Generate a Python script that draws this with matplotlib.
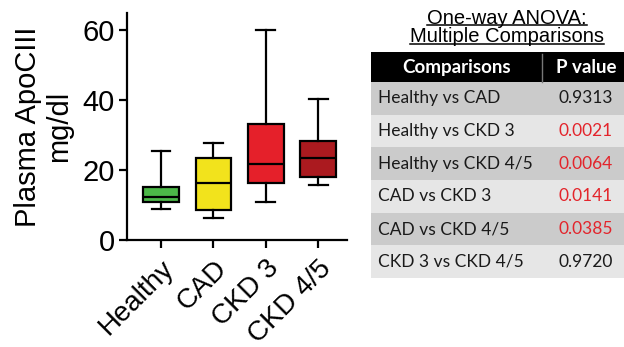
import matplotlib.pyplot as plt
from matplotlib.patches import Rectangle
from matplotlib.lines import Line2D

# Box plot data
groups = ['Healthy', 'CAD', 'CKD 3', 'CKD 4/5']
whisker_low = [9.0, 6.2, 10.8, 15.7]
q1 = [10.9, 8.6, 16.4, 18.1]
medians = [12.4, 16.2, 21.9, 23.6]
q3 = [15.2, 23.5, 33.3, 28.3]
whisker_high = [25.5, 27.9, 60.2, 40.4]
box_colors = ['#4cb848', '#f2e31c', '#e5202a', '#ab1a1f']

# Comparison table
comparisons = ['Healthy vs CAD', 'Healthy vs CKD 3', 'Healthy vs CKD 4/5',
               'CAD vs CKD 3', 'CAD vs CKD 4/5', 'CKD 3 vs CKD 4/5']
p_values = ['0.9313', '0.0021', '0.0064', '0.0141', '0.0385', '0.9720']
p_colors = ['#1a1a1a', '#e3242b', '#e3242b', '#e3242b', '#e3242b', '#1a1a1a']
row_colors = ['#cbcbcb', '#e6e6e6', '#cbcbcb', '#e6e6e6', '#cbcbcb', '#e6e6e6']

W, H = 624, 347
fig = plt.figure(figsize=(W / 100, H / 100), dpi=100)
fig.patch.set_facecolor('white')
plt.rcParams['font.family'] = ['Liberation Sans', 'DejaVu Sans']

# ---- box plot ----
ax = fig.add_axes([127 / W, 1 - 240 / H, 220 / W, 227 / H])
stats = []
for i, g in enumerate(groups):
    stats.append(dict(label=g, whislo=whisker_low[i], q1=q1[i], med=medians[i],
                      q3=q3[i], whishi=whisker_high[i], fliers=[]))
bp = ax.bxp(stats, positions=range(1, len(groups) + 1), widths=0.68,
            capwidths=0.36, patch_artist=True, showfliers=False,
            boxprops=dict(linewidth=1.6, edgecolor='black'),
            medianprops=dict(color='black', linewidth=1.6),
            whiskerprops=dict(color='black', linewidth=1.6),
            capprops=dict(color='black', linewidth=1.6))
for patch, c in zip(bp['boxes'], box_colors):
    patch.set_facecolor(c)

ax.set_xlim(0.35, 4.55)
ax.set_ylim(0, 65)
ax.set_yticks([0, 20, 40, 60])
ax.spines['top'].set_visible(False)
ax.spines['right'].set_visible(False)
ax.spines['left'].set_linewidth(1.6)
ax.spines['bottom'].set_linewidth(1.6)
ax.tick_params(axis='both', width=1.6, length=6, labelsize=21, pad=3)
ax.tick_params(axis='x', pad=5)
ax.set_xticks(range(1, len(groups) + 1))
ax.set_xticklabels(groups, rotation=45, ha='right', va='top',
                   rotation_mode='anchor', fontsize=20)
ax.set_ylabel('Plasma ApoCIII\nmg/dl', fontsize=21, linespacing=1.15)
ax.yaxis.set_label_coords(-0.245, 0.5)

# ---- table ----
tx0, tx1, ty0, ty1 = 371, 624, 52, 278
split = 542
tax = fig.add_axes([tx0 / W, 1 - ty1 / H, (tx1 - tx0) / W, (ty1 - ty0) / H])
n = len(comparisons)
hdr = 0.92
tax.set_xlim(tx0, tx1)
tax.set_ylim(n + hdr, 0)
tax.axis('off')
tbl_font = ['Lato', 'DejaVu Sans']
tax.add_patch(Rectangle((tx0, 0), tx1 - tx0, hdr, facecolor='black', edgecolor='none'))
tax.plot([split, split], [0.05, hdr], color='#777777', lw=1)
tax.text((tx0 + split) / 2, hdr / 2, 'Comparisons', color='white', fontsize=13.5,
         fontweight='bold', ha='center', va='center', family=tbl_font)
tax.text(586, hdr / 2, 'P value', color='white', fontsize=13.5,
         fontweight='bold', ha='center', va='center', family=tbl_font)
for i, (c, p) in enumerate(zip(comparisons, p_values)):
    y = hdr + i
    tax.add_patch(Rectangle((tx0, y), tx1 - tx0, 1, facecolor=row_colors[i],
                            edgecolor='none'))
    tax.text(378, y + 0.5, c, color='#1a1a1a', fontsize=12.5, ha='left',
             va='center', family=tbl_font)
    tax.text(586, y + 0.5, p, color=p_colors[i], fontsize=12.5, ha='center',
             va='center', family=tbl_font)

# ---- title with underline ----
t1 = fig.text(507 / W, 1 - 18 / H, 'One-way ANOVA:', fontsize=14.5,
              ha='center', va='center')
t2 = fig.text(507 / W, 1 - 37 / H, 'Multiple Comparisons', fontsize=14.5,
              ha='center', va='center')
fig.canvas.draw()
r = fig.canvas.get_renderer()
for t in (t1, t2):
    bb = t.get_window_extent(renderer=r)
    yl = (bb.y0 + 2.5) / H
    fig.add_artist(Line2D([bb.x0 / W, bb.x1 / W], [yl, yl], color='black', lw=1.1))

fig.savefig('out.png', dpi=100)
